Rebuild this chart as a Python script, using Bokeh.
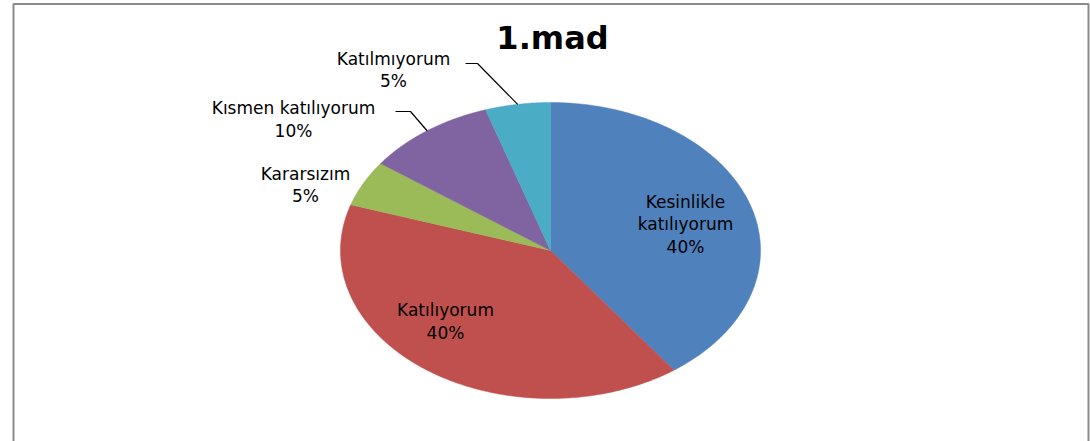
import numpy as np
from bokeh.plotting import figure
from bokeh.models import Range1d
from bokeh.core.properties import value
from bokeh.embed import file_html
from bokeh.resources import INLINE

# ---- data ----
title = "1.mad"
categories = ["Kesinlikle katılıyorum", "Katılıyorum", "Kararsızım", "Kısmen katılıyorum", "Katılmıyorum"]
values = [40, 40, 5, 10, 5]
colors = ["#4F81BD", "#C0504D", "#9BBB59", "#8064A2", "#4BACC6"]

# ---- layout (screen px) ----
W, H = 1090, 441
cx, cy, rx, ry = 550.0, 250.0, 210.0, 148.0
FONT = "DejaVu Sans"

p = figure(width=W, height=H, output_backend="svg", toolbar_location=None,
           x_range=Range1d(0, 1090), y_range=Range1d(441, 0),
           min_border_left=0, min_border_right=0, min_border_top=0, min_border_bottom=0)
p.axis.visible = False
p.grid.visible = False
p.outline_line_color = None
p.background_fill_color = "white"
p.border_fill_color = "white"

# chart area border (bottom edge lies outside the window)
p.line(x=[13, 13, 1088, 1088], y=[460, 3.5, 3.5, 460], line_color="#8a8a8a", line_width=2)
p.line(x=[1089.5, 1089.5], y=[3, 460], line_color="#c8c8c8", line_width=1)

total = float(sum(values))
fracs = np.array(values) / total
ends = np.cumsum(fracs) * 2 * np.pi
starts = ends - fracs * 2 * np.pi
xs, ys = [], []
for a0, a1 in zip(starts, ends):
    t = np.linspace(a0, a1, 200)
    xs.append(np.concatenate([[cx], cx + rx * np.sin(t)]).tolist())
    ys.append(np.concatenate([[cy], cy - ry * np.cos(t)]).tolist())
p.patches(xs=xs, ys=ys, fill_color=colors, line_color=colors, line_width=0.5)

pcts = ["%d%%" % round(f * 100) for f in fracs]
mids = (starts + ends) / 2

# label line texts and positions
label_lines = [
    (["Kesinlikle", "katılıyorum", pcts[0]], 685, [201, 223, 246]),
    ([categories[1], pcts[1]], 445, [309, 332]),
    ([categories[2], pcts[2]], 305, [173, 195]),
    ([categories[3], pcts[3]], 293, [107, 130]),
    ([categories[4], pcts[4]], 393, [58, 80]),
]
tx, ty, tt = [], [], []
for lines, x, yl in label_lines:
    for s, y in zip(lines, yl):
        tx.append(x); ty.append(y); tt.append(s)
p.text(x=tx, y=ty, text=tt, text_font=value(FONT), text_font_size="17px",
       text_color="#000000", text_align="center", text_baseline="middle")

# leader lines for Kısmen (3) and Katılmıyorum (4)
for i, (x0, y0, x1) in {3: (395, 111, 410), 4: (465, 63, 477)}.items():
    ex = cx + rx * np.sin(mids[i])
    ey = cy - ry * np.cos(mids[i])
    p.line(x=[x0, x1, ex], y=[y0, y0, ey], line_color="black", line_width=1.2)

p.text(x=[552], y=[37], text=[title], text_font=value(FONT), text_font_size="32px",
       text_font_style="bold", text_color="black", text_align="center", text_baseline="middle")

open("out.html", "w").write(file_html(p, INLINE))
